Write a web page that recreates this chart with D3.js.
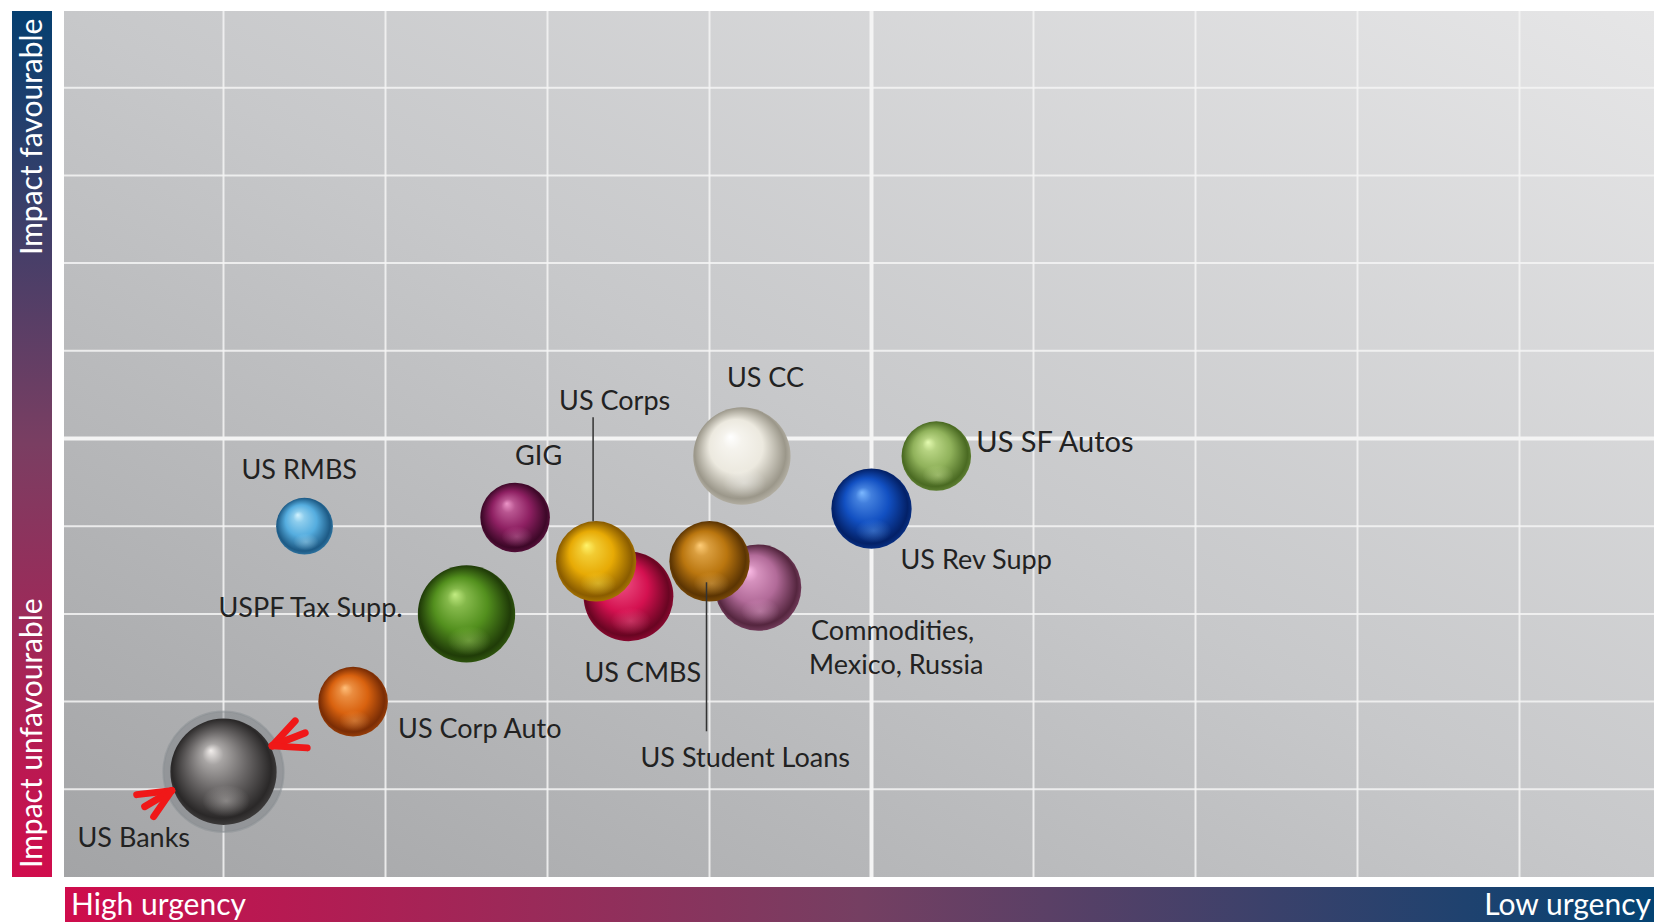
<!DOCTYPE html>
<html>
<head>
<meta charset="utf-8">
<script src="https://cdn.jsdelivr.net/npm/d3@7"></script>
<style>
  html, body { margin: 0; padding: 0; background: #ffffff; }
  svg { display: block; }
  text { font-family: Lato, "Open Sans", sans-serif; }
</style>
</head>
<body>
<svg id="chart" width="1654" height="922"></svg>
<script>
// ---------------- DATA ----------------
const names   = ["US Banks", "US Corp Auto", "US RMBS", "USPF Tax Supp.", "GIG", "US CMBS", "US Corps",
                 "US CC", "Commodities,\nMexico, Russia", "US Student Loans", "US Rev Supp", "US SF Autos"];
const urgency = [1.0, 1.8, 1.5, 2.5, 2.8, 3.5, 3.3, 4.2, 4.3, 4.0, 5.0, 5.4];   // x
const impact  = [1.2, 2.0, 4.0, 3.0, 4.1, 3.2, 3.6, 4.8, 3.3, 3.6, 4.2, 4.8];   // y
const sizes   = [2.8, 1.2, 0.8, 2.35, 1.2, 2.0, 1.6, 2.35, 1.85, 1.6, 1.6, 1.2];
const gridTicks = [1, 2, 3, 4, 5, 6, 7, 8, 9];
const axisLabels = { yTop: "Impact favourable", yBottom: "Impact unfavourable",
                     xLeft: "High urgency", xRight: "Low urgency" };

// ---------------- STYLE / LAYOUT ----------------
const ballColors = {
  "US Banks":         ["#f2eeec", "#6a6767", "#2a2828"],
  "US Corp Auto":     ["#ffbf7a", "#d9620f", "#7a2d05"],
  "US RMBS":          ["#d2f3ff", "#55addf", "#1d5a85"],
  "USPF Tax Supp.":   ["#c2ec82", "#53901e", "#203c08"],
  "GIG":              ["#ec95c8", "#8e2062", "#3d0828"],
  "US CMBS":          ["#ff7aa4", "#d41150", "#690522"],
  "US Corps":         ["#fff36a", "#e7aa05", "#8a5c00"],
  "US CC":            ["#ffffff", "#ece9df", "#9b978a"],
  "Commodities,\nMexico, Russia": ["#ffc0ea", "#b26b99", "#55263f"],
  "US Student Loans": ["#ffcd78", "#ba760f", "#5c3503"],
  "US Rev Supp":      ["#7cb8ff", "#1250c2", "#032168"],
  "US SF Autos":      ["#e4fbb0", "#90b25b", "#4a6a22"]
};
// label placement relative to bubble centre (px)
const labelLayout = {
  "US Banks":         { dx: -146, dy: 75 },
  "US Corp Auto":     { dx: 45,   dy: 36 },
  "US RMBS":          { dx: -63,  dy: -47 },
  "USPF Tax Supp.":   { dx: -248, dy: 3 },
  "GIG":              { dx: 0,    dy: -52 },
  "US CMBS":          { dx: -44,  dy: 86 },
  "US Corps":         { dx: -37,  dy: -151, leader: [-3, -144, -40] },
  "US CC":            { dx: -15,  dy: -69 },
  "Commodities,\nMexico, Russia": { dx: 53, dy: 52, lh: 34, dx2: -2 },
  "US Student Loans": { dx: -69,  dy: 206, leader: [-3, 21, 170] },
  "US Rev Supp":      { dx: 29,   dy: 60 },
  "US SF Autos":      { dx: 40,   dy: -4, fs: 29 }
};

const W = 1654, H = 922;
const plot = { left: 64, right: 1654, top: 11, bottom: 877 };

const svg = d3.select("#chart");
const defs = svg.append("defs");

const x = d3.scaleLinear().domain([0, 10]).range([61.5, 1681.5]);
const y = d3.scaleLinear().domain([0, 10]).range([877, 0]);
const r = d3.scaleSqrt().domain([0, 3]).range([0, 55]);

// background gradient
const bg = defs.append("linearGradient").attr("id", "bg")
  .attr("x1", 0).attr("y1", 1).attr("x2", 1).attr("y2", 0);
bg.append("stop").attr("offset", "0%").attr("stop-color", "#a3a4a6");
bg.append("stop").attr("offset", "50%").attr("stop-color", "#c7c8ca");
bg.append("stop").attr("offset", "100%").attr("stop-color", "#e6e6e7");

// side bars gradients
const gy = defs.append("linearGradient").attr("id", "gy")
  .attr("x1", 0).attr("y1", 0).attr("x2", 0).attr("y2", 1);
gy.append("stop").attr("offset", "0%").attr("stop-color", "#053f70");
gy.append("stop").attr("offset", "50%").attr("stop-color", "#7a3e62");
gy.append("stop").attr("offset", "100%").attr("stop-color", "#d00c4c");

const gx = defs.append("linearGradient").attr("id", "gx")
  .attr("x1", 0).attr("y1", 0).attr("x2", 1).attr("y2", 0);
gx.append("stop").attr("offset", "0%").attr("stop-color", "#cf0c4c");
gx.append("stop").attr("offset", "50%").attr("stop-color", "#753f62");
gx.append("stop").attr("offset", "100%").attr("stop-color", "#044373");

defs.append("clipPath").attr("id", "plotClip").append("rect")
  .attr("x", plot.left).attr("y", plot.top)
  .attr("width", plot.right - plot.left).attr("height", plot.bottom - plot.top);

// plot background
svg.append("rect")
  .attr("x", plot.left).attr("y", plot.top)
  .attr("width", plot.right - plot.left).attr("height", plot.bottom - plot.top)
  .attr("fill", "url(#bg)");

const grid = svg.append("g").attr("clip-path", "url(#plotClip)");
grid.selectAll("line.v").data(gridTicks).join("line")
  .attr("class", "v")
  .attr("x1", d => x(d)).attr("x2", d => x(d))
  .attr("y1", plot.top).attr("y2", plot.bottom)
  .attr("stroke", "#f4f4f4").attr("stroke-opacity", d => d === 5 ? 1 : 0.85)
  .attr("stroke-width", d => d === 5 ? 4 : 2);
grid.selectAll("line.h").data(gridTicks).join("line")
  .attr("class", "h")
  .attr("y1", d => y(d)).attr("y2", d => y(d))
  .attr("x1", plot.left).attr("x2", plot.right)
  .attr("stroke", "#f4f4f4").attr("stroke-opacity", d => d === 5 ? 1 : 0.85)
  .attr("stroke-width", d => d === 5 ? 4 : 2);

// axis bars
svg.append("rect").attr("x", 12).attr("y", 11).attr("width", 40).attr("height", 866)
  .attr("fill", "url(#gy)");
svg.append("rect").attr("x", 65).attr("y", 887).attr("width", W - 65).attr("height", 35)
  .attr("fill", "url(#gx)");

svg.append("text").text(axisLabels.yTop)
  .attr("transform", "translate(42,255) rotate(-90)")
  .attr("fill", "#ffffff").attr("font-size", 30);
svg.append("text").text(axisLabels.yBottom)
  .attr("transform", "translate(42,868) rotate(-90)")
  .attr("fill", "#ffffff").attr("font-size", 30);
svg.append("text").text(axisLabels.xLeft)
  .attr("x", 71).attr("y", 915).attr("fill", "#ffffff").attr("font-size", 30);
svg.append("text").text(axisLabels.xRight)
  .attr("x", 1651).attr("y", 915).attr("text-anchor", "end")
  .attr("fill", "#ffffff").attr("font-size", 30);

// data
const data = names.map((n, i) => ({ name: n, x: urgency[i], y: impact[i], s: sizes[i], i }));

// gradients for balls
data.forEach(d => {
  const c = ballColors[d.name];
  const g = defs.append("radialGradient").attr("id", "ball" + d.i)
    .attr("cx", "50%").attr("cy", "50%").attr("r", "55%")
    .attr("fx", "38%").attr("fy", "30%");
  g.append("stop").attr("offset", "0%").attr("stop-color", c[0]);
  g.append("stop").attr("offset", "18%").attr("stop-color", d3.interpolateRgb(c[0], c[1])(0.55));
  g.append("stop").attr("offset", "50%").attr("stop-color", c[1]);
  g.append("stop").attr("offset", "85%").attr("stop-color", c[2]);
  g.append("stop").attr("offset", "100%").attr("stop-color", d3.interpolateRgb(c[2], c[1])(0.5));
  const g2 = defs.append("radialGradient").attr("id", "glow" + d.i)
    .attr("cx", "50%").attr("cy", "50%").attr("r", "50%");
  g2.append("stop").attr("offset", "0%").attr("stop-color", c[0]).attr("stop-opacity", 0.35);
  g2.append("stop").attr("offset", "100%").attr("stop-color", c[0]).attr("stop-opacity", 0);
});

const balls = svg.append("g");

// halo for US Banks
const banks = data[0];
balls.append("circle")
  .attr("cx", x(banks.x)).attr("cy", y(banks.y)).attr("r", r(banks.s) + 7)
  .attr("fill", "#6a7075").attr("fill-opacity", 0.35)
  .attr("stroke", "#8a8f93").attr("stroke-opacity", 0.5).attr("stroke-width", 2);

const bg2 = balls.selectAll("g.ball").data(data).join("g").attr("class", "ball");
bg2.append("circle")
  .attr("cx", d => x(d.x)).attr("cy", d => y(d.y)).attr("r", d => r(d.s))
  .attr("fill", d => "url(#ball" + d.i + ")");
// lower reflection
bg2.append("ellipse")
  .attr("cx", d => x(d.x) + r(d.s) * 0.05).attr("cy", d => y(d.y) + r(d.s) * 0.55)
  .attr("rx", d => r(d.s) * 0.45).attr("ry", d => r(d.s) * 0.3)
  .attr("fill", d => "url(#glow" + d.i + ")");

// red arrows pointing at US Banks
const arrows = [
  { angle: 160, strokes: [[-35, 4], [-27, 16], [-18, 26]] },
  { angle: -28, strokes: [[23, -25], [33, -13], [35, 2]] }
];
const bcx = x(banks.x), bcy = y(banks.y), br = r(banks.s) + 2;
const arr = svg.append("g");
arrows.forEach(a => {
  const t = a.angle * Math.PI / 180;
  const tx = bcx + br * Math.cos(t), ty = bcy + br * Math.sin(t);
  a.strokes.forEach(s => {
    arr.append("line")
      .attr("x1", tx).attr("y1", ty).attr("x2", tx + s[0]).attr("y2", ty + s[1])
      .attr("stroke", "#f01818").attr("stroke-width", 7).attr("stroke-linecap", "round");
  });
});

// labels
const lab = svg.append("g");
data.forEach(d => {
  const L = labelLayout[d.name];
  const cx = x(d.x), cy = y(d.y);
  if (L.leader) {
    lab.append("line")
      .attr("x1", cx + L.leader[0]).attr("x2", cx + L.leader[0])
      .attr("y1", cy + L.leader[1]).attr("y2", cy + L.leader[2])
      .attr("stroke", "#333").attr("stroke-width", 1.5);
  }
  const lines = d.name.split("\n");
  lines.forEach((ln, k) => {
    lab.append("text").text(ln)
      .attr("x", cx + L.dx + (k > 0 ? (L.dx2 || 0) : 0))
      .attr("y", cy + L.dy + k * (L.lh || 0))
      .attr("fill", "#222222").attr("font-size", L.fs || 27);
  });
});
</script>
</body>
</html>
